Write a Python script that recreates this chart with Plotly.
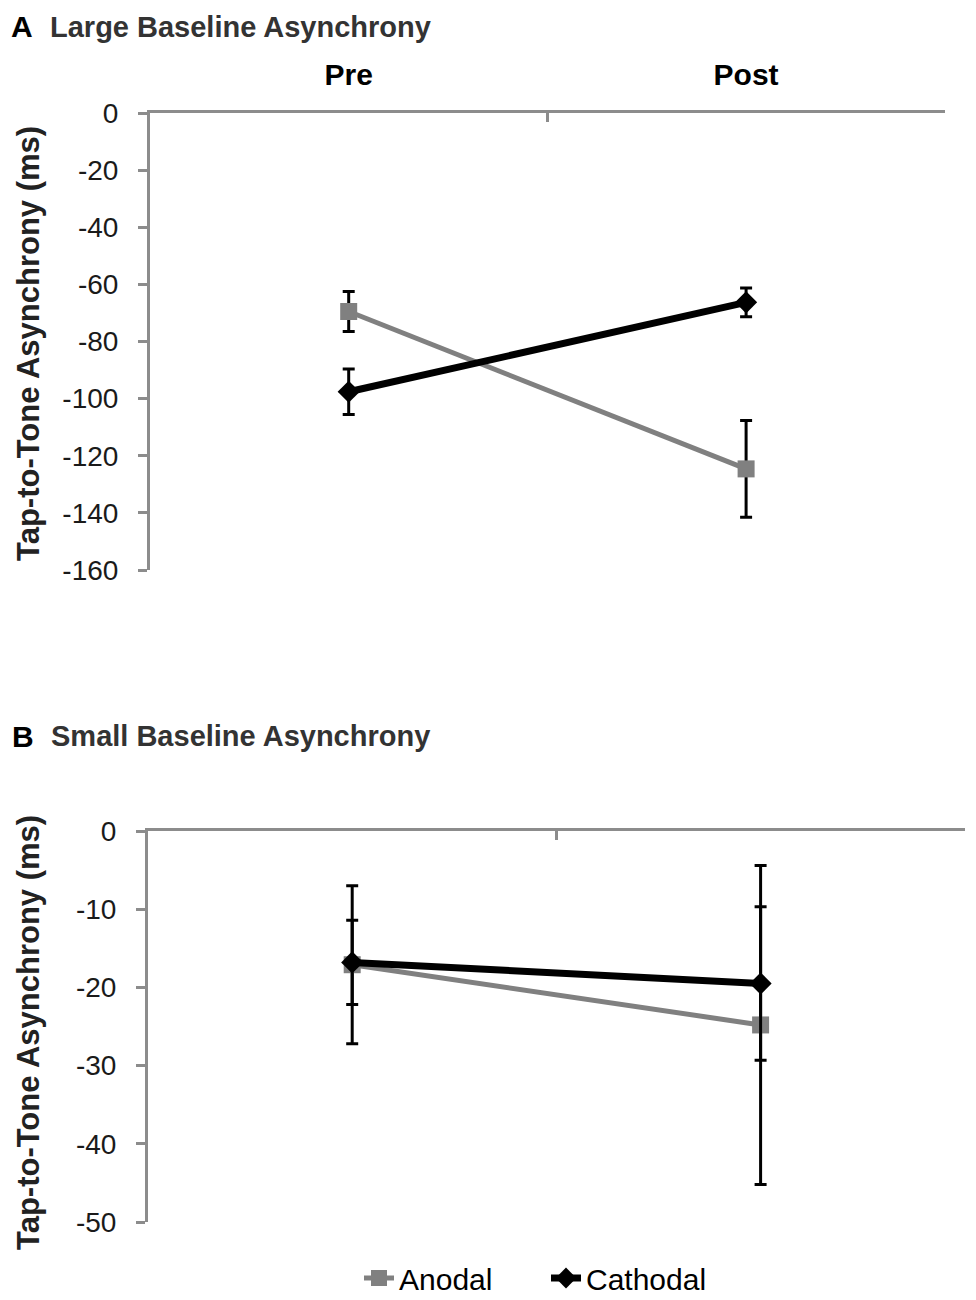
import plotly.graph_objects as go

categories = ["Pre", "Post"]

# Panel A: Large Baseline Asynchrony
a_anodal = [-69.5, -124.6]
a_anodal_se = [7.0, 16.9]
a_cathodal = [-97.6, -66.3]
a_cathodal_se = [8.0, 5.0]

# Panel B: Small Baseline Asynchrony
b_anodal = [-17.1, -24.8]
b_anodal_se = [10.1, 20.4]
b_cathodal = [-16.8, -19.5]
b_cathodal_se = [5.4, 9.8]

y_ticks_a = [0, -20, -40, -60, -80, -100, -120, -140, -160]
y_ticktext_a = ["0", "-20", "-40", "-60", "-80", "-100", "-120", "-140", "-160"]
y_ticks_b = [0, -10, -20, -30, -40, -50]
y_ticktext_b = ["0", "-10", "-20", "-30", "-40", "-50"]

FONT = "Liberation Sans, Arial, sans-serif"
GRAY = "#808080"
AXIS = "#8c8c8c"

W, H = 976, 1300
OFF = 8  # page body margin

def px_x(p):
    return (p - OFF) / W

def px_y(p):
    return 1 - (p - OFF) / H

fig = go.Figure()

def add_panel(anod, anod_se, cath, cath_se, xa, ya, show_legend):
    fig.add_trace(go.Scatter(
        x=categories, y=anod, name="Anodal", mode="lines+markers",
        line=dict(color=GRAY, width=5),
        marker=dict(symbol="square", size=17, color=GRAY),
        error_y=dict(type="data", array=anod_se, visible=True, color="black",
                     thickness=3, width=6),
        xaxis=xa, yaxis=ya, showlegend=show_legend, legendgroup="Anodal",
    ))
    fig.add_trace(go.Scatter(
        x=categories, y=cath, name="Cathodal", mode="lines+markers",
        line=dict(color="black", width=7),
        marker=dict(symbol="diamond", size=17, color="black"),
        error_y=dict(type="data", array=cath_se, visible=True, color="black",
                     thickness=3, width=6),
        xaxis=xa, yaxis=ya, showlegend=show_legend, legendgroup="Cathodal",
    ))

add_panel(a_anodal, a_anodal_se, a_cathodal, a_cathodal_se, "x", "y", True)
add_panel(b_anodal, b_anodal_se, b_cathodal, b_cathodal_se, "x2", "y2", False)

xcommon = dict(
    type="category", range=[-0.5, 1.5005], side="top",
    showline=True, linecolor=AXIS, linewidth=3,
    ticks="inside", tickson="boundaries", ticklen=9, tickwidth=3, tickcolor=AXIS,
    showgrid=False, zeroline=False, automargin=False,
    tickfont=dict(family=FONT, size=30, color="black", weight="bold"),
)
ycommon = dict(
    showline=True, linecolor=AXIS, linewidth=3,
    ticks="outside", ticklen=9, tickwidth=3, tickcolor=AXIS,
    showgrid=False, zeroline=False, automargin=False,
    tickfont=dict(family=FONT, size=28, color="#1a1a1a"),
    ticklabelstandoff=14,
)

title_font = dict(family=FONT, size=31, color="#222222")
head_font = dict(family=FONT, size=29, color="#333333")
letter_font = dict(family=FONT, size=30, color="black")

fig.update_layout(
    width=W, height=H,
    margin=dict(l=0, r=0, t=0, b=0),
    paper_bgcolor="white", plot_bgcolor="white",
    font=dict(family=FONT),
    xaxis=dict(xcommon, domain=[px_x(150), px_x(945)], anchor="y", ticklabelstandoff=13),
    yaxis=dict(ycommon, domain=[px_y(570), px_y(113)], range=[-160, 0],
               tickvals=y_ticks_a, ticktext=y_ticktext_a, anchor="x"),
    xaxis2=dict(xcommon, domain=[px_x(148), px_x(965)], anchor="y2", showticklabels=False),
    yaxis2=dict(ycommon, domain=[px_y(1222), px_y(831)], range=[-50, 0],
                tickvals=y_ticks_b, ticktext=y_ticktext_b, anchor="x2"),
    legend=dict(orientation="h", x=px_x(546), xanchor="center", y=px_y(1278), yanchor="middle",
                font=dict(family=FONT, size=30, color="black"),
                entrywidth=142, entrywidthmode="pixels",
                tracegroupgap=0, bgcolor="rgba(0,0,0,0)"),
    annotations=[
        dict(text="<b>A</b>", x=px_x(10), y=px_y(27), xref="paper", yref="paper",
             xanchor="left", yanchor="middle", showarrow=False, borderpad=0, font=letter_font),
        dict(text="<b>Large Baseline Asynchrony</b>", x=px_x(49), y=px_y(27), xref="paper", yref="paper",
             xanchor="left", yanchor="middle", showarrow=False, borderpad=0, font=head_font),
        dict(text="<b>B</b>", x=px_x(10), y=px_y(736), xref="paper", yref="paper",
             xanchor="left", yanchor="middle", showarrow=False, font=letter_font),
        dict(text="<b>Small Baseline Asynchrony</b>", x=px_x(49), y=px_y(736), xref="paper", yref="paper",
             xanchor="left", yanchor="middle", showarrow=False, font=head_font),
        dict(text="<b>Tap-to-Tone Asynchrony (ms)</b>", x=px_x(28), y=px_y(344), xref="paper", yref="paper",
             xanchor="center", yanchor="middle", textangle=-90, showarrow=False, font=title_font),
        dict(text="<b>Tap-to-Tone Asynchrony (ms)</b>", x=px_x(28), y=px_y(1033), xref="paper", yref="paper",
             xanchor="center", yanchor="middle", textangle=-90, showarrow=False, font=title_font),
    ],
)

fig.write_html("out.html")
